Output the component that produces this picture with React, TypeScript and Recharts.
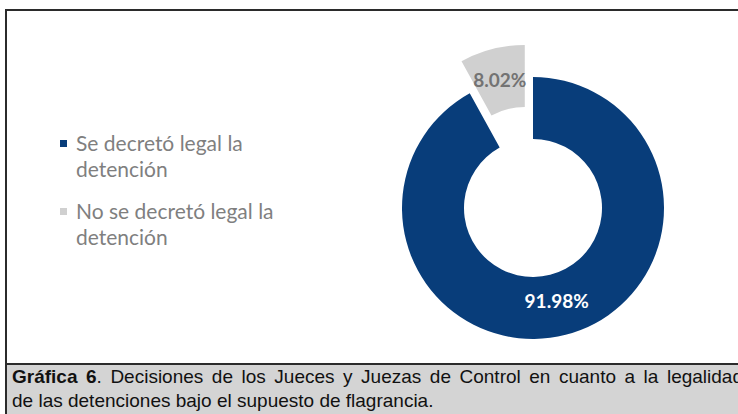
import React from 'react';
import { PieChart, Pie, Cell, Legend } from 'recharts';

const categories = ['Se decretó legal la detención', 'No se decretó legal la detención'];
const shares = [91.98, 8.02];
const valueLabels = ['91.98%', '8.02%'];
const captionBold = 'Gráfica 6';
const captionLine1 = '. Decisiones de los Jueces y Juezas de Control en cuanto a la legalidad';
const captionLine2 = 'de las detenciones bajo el supuesto de flagrancia.';

const COLORS = ['#083d7a', '#d0d0d0'];
const LABEL_COLORS = ['#ffffff', '#737373'];

const data = categories.map((name, i) => ({ name, value: shares[i], label: valueLabels[i] }));

const CX = 533;
const CY = 208;
const INNER = 69;
const OUTER = 131;
const EXPLODE = 33;
const START = 90;
const END = -270;

// exploded slice direction from the data
const total = shares.reduce((a, b) => a + b, 0);
const grayMid = START - 360 * ((shares[0] + shares[1] / 2) / total);
const RAD = Math.PI / 180;
const CX2 = CX + EXPLODE * Math.cos(grayMid * RAD);
const CY2 = CY - EXPLODE * Math.sin(grayMid * RAD);

const makeLabel = (show: number, factor: number) => (props: any) => {
  const { cx, cy, midAngle, innerRadius, outerRadius, index } = props;
  if (index !== show) return <g />;
  const r = innerRadius + (outerRadius - innerRadius) * factor;
  const x = cx + r * Math.cos(-midAngle * RAD);
  const y = cy + r * Math.sin(-midAngle * RAD);
  return (
    <text
      x={x}
      y={y}
      fill={LABEL_COLORS[index]}
      textAnchor="middle"
      dominantBaseline="central"
      fontFamily="Lato"
      fontWeight={700}
      fontSize={19}
    >
      {data[index].label}
    </text>
  );
};

const renderLegend = () => (
  <div style={{ fontFamily: 'Lato', fontSize: 21, lineHeight: '26px', color: '#7f7f7f' }}>
    {categories.map((name, i) => (
      <div key={name} style={{ display: 'flex', alignItems: 'flex-start', marginBottom: 16 }}>
        <span
          style={{
            display: 'inline-block',
            width: 7,
            height: 7,
            background: COLORS[i],
            marginTop: 10,
            marginRight: 9,
            flex: '0 0 auto',
          }}
        />
        <span style={{ width: 215 }}>{name}</span>
      </div>
    ))}
  </div>
);

export default function App() {
  return (
    <div style={{ position: 'absolute', left: 0, top: 0, width: 738, height: 414, overflow: 'hidden', background: '#ffffff' }}>
      <div
        style={{
          position: 'absolute',
          left: 5,
          top: 9,
          width: 780,
          height: 430,
          border: '2px solid #2b2b2b',
          background: '#ffffff',
        }}
      />
      <div style={{ position: 'absolute', left: 0, top: 0 }}>
        <PieChart width={738} height={414} margin={{ top: 0, right: 0, bottom: 0, left: 0 }}>
          <Pie
            data={data}
            dataKey="value"
            nameKey="name"
            cx={CX}
            cy={CY}
            innerRadius={INNER}
            outerRadius={OUTER}
            startAngle={START}
            endAngle={END}
            stroke="none"
            labelLine={false}
            label={makeLabel(0, 0.42)}
            isAnimationActive={false}
          >
            <Cell fill={COLORS[0]} />
            <Cell fill="none" />
          </Pie>
          <Pie
            data={data}
            dataKey="value"
            nameKey="name"
            cx={CX2}
            cy={CY2}
            innerRadius={INNER}
            outerRadius={OUTER}
            startAngle={START}
            endAngle={END}
            stroke="none"
            labelLine={false}
            label={makeLabel(1, 0.5)}
            legendType="none"
            isAnimationActive={false}
          >
            <Cell fill="none" />
            <Cell fill={COLORS[1]} />
          </Pie>
          <Legend
            layout="vertical"
            content={renderLegend}
            wrapperStyle={{ position: 'absolute', left: 60, top: 130, width: 240 }}
          />
        </PieChart>
      </div>
      <div
        style={{
          position: 'absolute',
          left: 7,
          top: 363,
          width: 780,
          height: 60,
          borderTop: '2px solid #2b2b2b',
          background: '#d4d4d4',
          fontFamily: '"Liberation Sans", Arial, sans-serif',
          fontSize: 19,
          lineHeight: '24px',
          color: '#111111',
        }}
      >
        <div style={{ marginLeft: 5, width: 731, textAlign: 'justify', textAlignLast: 'justify', whiteSpace: 'normal' }}>
          <b>{captionBold}</b>
          {captionLine1}
        </div>
        <div style={{ marginLeft: 5 }}>{captionLine2}</div>
      </div>
    </div>
  );
}
